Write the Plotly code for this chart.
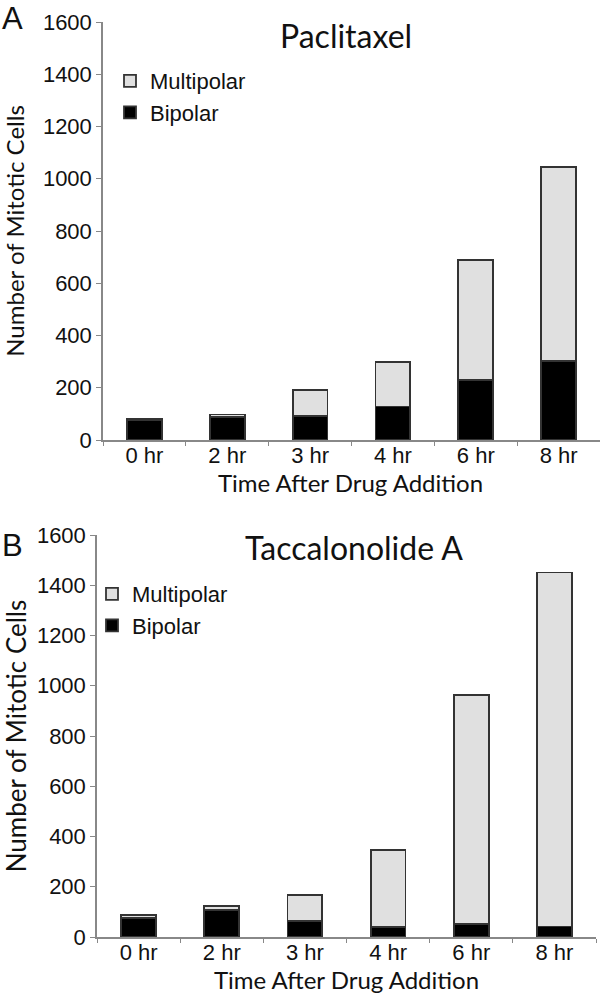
import plotly.graph_objects as go

categories = ["0 hr", "2 hr", "3 hr", "4 hr", "6 hr", "8 hr"]
pac_bipolar = [78, 87, 92, 128, 230, 302]
pac_multipolar = [2, 11, 99, 172, 459, 744]
tac_bipolar = [76, 106, 64, 40, 52, 42]
tac_multipolar = [10, 16, 104, 305, 912, 1409]
y_ticks = [0, 200, 400, 600, 800, 1000, 1200, 1400, 1600]

W, H = 600, 995
def fx(p): return min(1.0, p / W)
def fy(p): return 1 - p / H

BAR_LINE = dict(color="#333333", width=1.8)
MULTI_FILL = "#e0e0e0"
ARIAL = "Liberation Sans, Arial, sans-serif"
CAL = "Lato, Calibri, sans-serif"
TICKFONT = dict(family=ARIAL, size=22, color="#111111")
XTICKFONT = dict(family=ARIAL, size=22, color="#111111")

fig = go.Figure()
fig.add_trace(go.Bar(x=categories, y=pac_bipolar, name="Bipolar", marker=dict(color="black", line=BAR_LINE),
                     xaxis="x", yaxis="y", legend="legend"))
fig.add_trace(go.Bar(x=categories, y=pac_multipolar, name="Multipolar", marker=dict(color=MULTI_FILL, line=BAR_LINE),
                     xaxis="x", yaxis="y", legend="legend"))
fig.add_trace(go.Bar(x=categories, y=tac_bipolar, name="Bipolar", marker=dict(color="black", line=BAR_LINE),
                     xaxis="x2", yaxis="y2", legend="legend2"))
fig.add_trace(go.Bar(x=categories, y=tac_multipolar, name="Multipolar", marker=dict(color=MULTI_FILL, line=BAR_LINE),
                     xaxis="x2", yaxis="y2", legend="legend2"))

def xaxis_cfg(domain, anchor):
    return dict(domain=domain, anchor=anchor, type="category", showline=True, linecolor="#888888", linewidth=1.5,
                ticks="outside", tickson="boundaries", ticklen=4, tickcolor="#888888", tickfont=XTICKFONT,
                ticklabelstandoff=-5, showgrid=False, zeroline=False, automargin=False)

def yaxis_cfg(domain, anchor, tsize):
    return dict(domain=domain, anchor=anchor, range=[0, 1600], tickvals=y_ticks, showline=True,
                linecolor="#888888", linewidth=1.5, ticks="outside", ticklen=5, tickcolor="#888888",
                tickfont=TICKFONT, showgrid=False, zeroline=False, automargin=False,
                title=dict(text="Number of Mitotic Cells", font=dict(family=CAL, size=tsize, color="#111111"),
                           standoff=16))

legcommon = dict(font=dict(family=ARIAL, size=22, color="#111111"), traceorder="reversed",
                 bgcolor="rgba(0,0,0,0)", itemwidth=30, tracegroupgap=0, xanchor="left", yanchor="top")

def ann(text, x, y, family, size):
    return dict(text=text, x=fx(x), y=fy(y), xref="paper", yref="paper", showarrow=False,
                xanchor="center", yanchor="middle", font=dict(family=family, size=size, color="#111111"))

fig.update_layout(
    width=W, height=H, margin=dict(l=0, r=0, t=0, b=0, autoexpand=False), barmode="stack", bargap=0.58,
    paper_bgcolor="white", plot_bgcolor="white", showlegend=True,
    xaxis=xaxis_cfg([fx(103), fx(600)], "y"),
    yaxis=yaxis_cfg([fy(440), fy(22)], "x", 24),
    xaxis2=xaxis_cfg([fx(97), fx(596)], "y2"),
    yaxis2=yaxis_cfg([fy(937), fy(535)], "x2", 26),
    legend=dict(x=fx(110), y=fy(60), **legcommon),
    legend2=dict(x=fx(92), y=fy(573), **legcommon),
    annotations=[
        ann("Paclitaxel", 346, 35, CAL, 32),
        ann("Taccalonolide A", 354, 547, CAL, 32),
        ann("Time After Drug Addition", 350, 483, CAL, 24),
        ann("Time After Drug Addition", 346, 979, CAL, 24),
        ann("A", 12, 19, ARIAL, 31),
        ann("B", 12, 545, ARIAL, 31),
    ],
)

fig.write_html("out.html", config={"displayModeBar": False},
               post_script="document.body.style.margin='0';document.body.style.overflow='hidden';")
